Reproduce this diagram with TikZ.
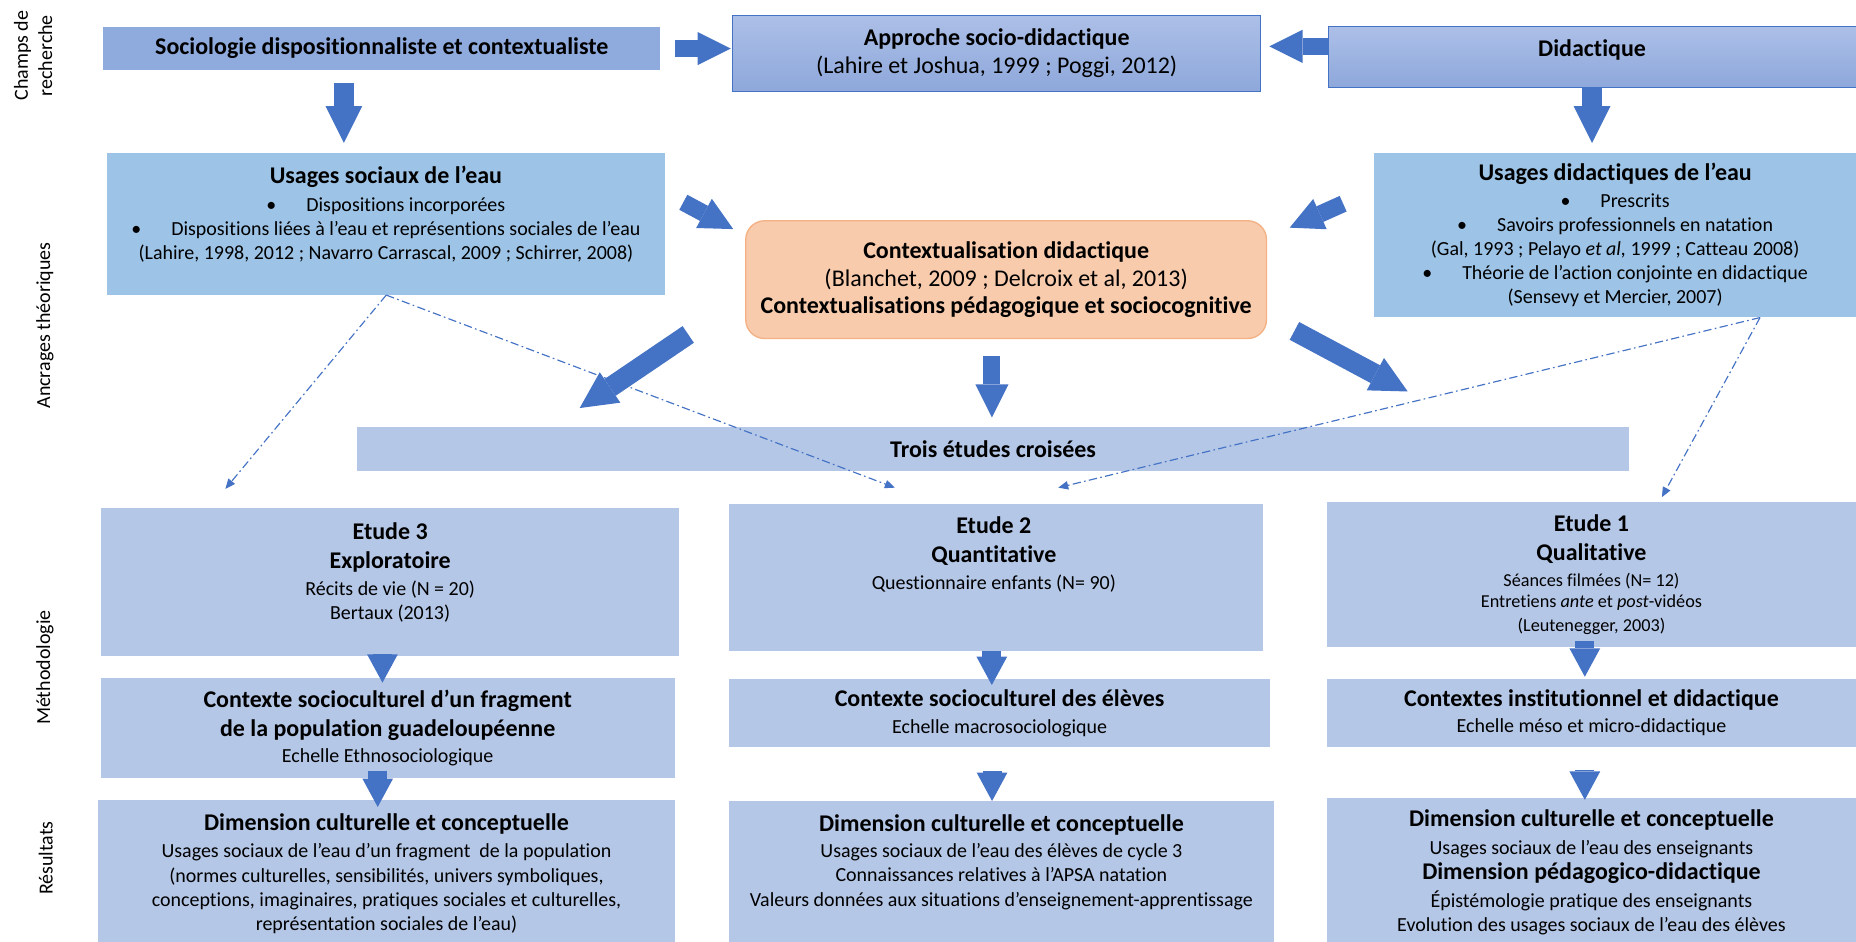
\documentclass[tikz,border=0pt,12pt]{standalone}
\usepackage{fontspec}
\setmainfont{Carlito}[Ligatures=NoCommon]
\usetikzlibrary{arrows.meta}
\definecolor{socblue}{HTML}{8FAADC}
\definecolor{apptop}{HTML}{ACBFE7}
\definecolor{appbot}{HTML}{8EA8DB}
\definecolor{frameblue}{HTML}{4472C4}
\definecolor{usageblue}{HTML}{9DC3E6}
\definecolor{studyblue}{HTML}{B4C7E7}
\definecolor{ctxfill}{HTML}{F8CBAD}
\definecolor{ctxline}{HTML}{F4B183}
\definecolor{arrowblue}{HTML}{4472C4}
\tikzset{
    box/.style={rectangle, inner sep=2pt, align=center},
    field/.style={box, fill=socblue},
    approach/.style={box, draw=frameblue, line width=0.6pt, top color=apptop, bottom color=appbot},
    usage/.style={box, fill=usageblue},
    study/.style={box, fill=studyblue},
    ctxbox/.style={box, rounded corners=0.4cm, fill=ctxfill, draw=ctxline, line width=0.8pt},
    txt/.style={inner sep=0pt, align=center},
    side/.style={rotate=90, inner sep=0pt, align=center},
    bigarrow/.style={draw=arrowblue, line width=0.425cm, -{Triangle[width=0.775cm, length=0.775cm, line width=0pt]}},
    midarrow/.style={draw=arrowblue, line width=0.36cm, -{Triangle[width=0.7cm, length=0.7cm, line width=0pt]}},
    smallarrow/.style={draw=arrowblue, line width=0.4cm, -{Triangle[width=0.65cm, length=0.6cm, line width=0pt]}},
    dotarrow/.style={draw=arrowblue, line width=0.7pt, dash pattern=on 5pt off 2pt on 1pt off 2pt, -{Triangle[width=5pt, length=6pt]}}
}

\begin{document}
\begin{tikzpicture}
    \useasboundingbox (0,0) rectangle (39.2,-19.875);
    \clip (0,0) rectangle (39.2,-19.875);

    \node[side] (champs) at (0.7,-1.175) {Champs de\\recherche};
    \node[side] (ancrages) at (0.95,-6.875) {Ancrages théoriques};
    \node[side] (methodo) at (0.95,-14.1) {Méthodologie};
    \node[side] (resultats) at (0.965,-18.125) {Résultats};

    \node[field, minimum width=11.775cm, minimum height=0.9cm] (soc) at (8.0625,-1.025) {\large\bfseries Sociologie dispositionnaliste et contextualiste};
    \node[approach, minimum width=11.15cm, minimum height=1.6125cm] (app) at (21.05,-1.131) {{\large\bfseries Approche socio-didactique}\\[2.3pt]{\large (Lahire et Joshua, 1999 ; Poggi, 2012)}};
    \node[approach, minimum width=11.15cm, minimum height=1.275cm] (dida) at (33.625,-1.2) {};
    \node[txt] (didatext) at (33.625,-1.05) {\large\bfseries Didactique};

    \node[usage, minimum width=11.785cm, minimum height=2.985cm] (usoc) at (8.1575,-4.7325) {};
    \node[txt] (usoctext) at (8.15,-4.525) {{\large\bfseries Usages sociaux de l’eau}\\[2.5pt]
        \textbullet\hspace{1.5em}Dispositions incorporées\\
        \textbullet\hspace{1.5em}Dispositions liées à l’eau et représentions sociales de l’eau\\
        (Lahire, 1998, 2012 ; Navarro Carrascal, 2009 ; Schirrer, 2008)};
    \node[usage, minimum width=10.175cm, minimum height=3.475cm] (udid) at (34.1125,-4.9625) {{\large\bfseries Usages didactiques de l’eau}\\[1.8pt]
        \textbullet\hspace{1.5em}Prescrits\\
        \textbullet\hspace{1.5em}Savoirs professionnels en natation\\
        (Gal, 1993 ; Pelayo \textit{et al,} 1999 ; Catteau 2008)\\
        \textbullet\hspace{1.5em}Théorie de l’action conjointe en didactique\\
        (Sensevy et Mercier, 2007)};
    \node[ctxbox, minimum width=11cm, minimum height=2.4875cm] (ctx) at (21.25,-5.906) {{\large\bfseries Contextualisation didactique}\\[2.5pt]
        {\large (Blanchet, 2009 ; Delcroix et al, 2013)}\\[1.9pt]
        {\large\bfseries Contextualisations pédagogique et sociocognitive}};

    \node[study, minimum width=26.85cm, minimum height=0.925cm] (trois) at (20.975,-9.4875) {\large\bfseries Trois études croisées};

    \node[study, minimum width=12.225cm, minimum height=3.125cm] (e3) at (8.2375,-12.2875) {};
    \node[txt] (e3text) at (8.24,-12.09) {{\large\bfseries Etude 3}\\[3pt]
        {\large\bfseries Exploratoire}\\[1.4pt]
        Récits de vie (N = 20)\\
        Bertaux (2013)};
    \node[study, minimum width=11.275cm, minimum height=3.1cm] (e2) at (21.0375,-12.2) {};
    \node[txt] (e2text) at (20.99,-11.71) {{\large\bfseries Etude 2}\\[3pt]
        {\large\bfseries Quantitative}\\[1.2pt]
        Questionnaire enfants (N= 90)};
    \node[study, minimum width=11.175cm, minimum height=3.075cm] (e1) at (33.6125,-12.1375) {{\large\bfseries Etude 1}\\[3pt]
        {\large\bfseries Qualitative}\\[0.7pt]
        {\small Séances filmées (N= 12)}\\[-1.7pt]
        {\small Entretiens \textit{ante} et \textit{post}-vidéos}\\
        {\small (Leutenegger, 2003)}};

    \node[study, minimum width=12.125cm, minimum height=2.1cm] (c3) at (8.1875,-15.375) {{\large\bfseries Contexte socioculturel d’un fragment}\\[2.5pt]
        {\large\bfseries de la population guadeloupéenne}\\[1.1pt]
        Echelle Ethnosociologique};
    \node[study, minimum width=11.425cm, minimum height=1.425cm] (c2) at (21.1125,-15.0625) {{\large\bfseries Contexte socioculturel des élèves}\\[1.9pt]
        Echelle macrosociologique};
    \node[study, minimum width=11.175cm, minimum height=1.425cm] (c1) at (33.6125,-15.0625) {{\large\bfseries Contextes institutionnel et didactique}\\[1.1pt]
        Echelle méso et micro-didactique};

    \node[study, minimum width=12.175cm, minimum height=3.1cm] (r3) at (8.1625,-18.45) {{\large\bfseries Dimension culturelle et conceptuelle}\\[2.1pt]
        Usages sociaux de l’eau d’un fragment\ \ de la population\\
        (normes culturelles, sensibilités, univers symboliques,\\
        conceptions, imaginaires, pratiques sociales et culturelles,\\
        représentation sociales de l’eau)};
    \node[study, minimum width=11.5cm, minimum height=3.075cm] (r2) at (21.15,-18.4625) {};
    \node[txt] (r2text) at (21.15,-18.21) {{\large\bfseries Dimension culturelle et conceptuelle}\\[1.2pt]
        Usages sociaux de l’eau des élèves de cycle 3\\
        Connaissances relatives à l’APSA natation\\
        Valeurs données aux situations d’enseignement-apprentissage};
    \node[study, minimum width=11.175cm, minimum height=3.15cm] (r1) at (33.6125,-18.425) {{\large\bfseries Dimension culturelle et conceptuelle}\\[1.8pt]
        Usages sociaux de l’eau des enseignants\\[1.1pt]
        {\large\bfseries Dimension pédagogico-didactique}\\[1.8pt]
        Épistémologie pratique des enseignants\\
        Evolution des usages sociaux de l’eau des élèves};

    \coordinate (toe3) at (4.76,-10.325);
    \coordinate (toe2a) at (18.9,-10.3);
    \coordinate (toe2b) at (22.35,-10.3);
    \coordinate (toe1) at (35.1,-10.5);
    \draw[dotarrow] (usoc.south) -- (toe3);
    \draw[dotarrow] (usoc.south) -- (toe2a);
    \draw[dotarrow] ([xshift=3.06cm]udid.south) -- (toe2b);
    \draw[dotarrow] ([xshift=3.06cm]udid.south) -- (toe1);

    \draw[midarrow, shorten <=0.3cm, shorten >=0.03cm] (soc.east) -- (soc.east -| app.west);
    \draw[midarrow, shorten >=0.175cm] ([yshift=0.22cm]dida.west) -- ([yshift=0.22cm]dida.west -| app.east);
    \draw[bigarrow, shorten <=0.275cm, shorten >=0.215cm] ([xshift=-0.8cm]soc.south) -- ([xshift=-0.8cm]soc.south |- usoc.north);
    \draw[bigarrow, shorten >=0.2cm] (dida.south) -- (dida.south |- udid.north);
    \draw[midarrow] ([xshift=0.375cm, yshift=0.46cm]usoc.east) -- ([xshift=-0.25cm, yshift=-0.19cm]ctx.north west);
    \draw[midarrow] ([xshift=-0.65cm, yshift=0.66cm]udid.west) -- ([xshift=0.475cm, yshift=-0.16cm]ctx.north east);
    \draw[bigarrow] ([xshift=-1.2cm, yshift=0.1cm]ctx.south west) -- ([xshift=4.7cm, yshift=0.4cm]trois.north west);
    \draw[midarrow, shorten <=0.35cm, shorten >=0.2cm] ([xshift=-0.3cm]ctx.south) -- ([xshift=-0.3cm]ctx.south |- trois.north);
    \draw[bigarrow] ([xshift=0.575cm, yshift=0.175cm]ctx.south east) -- ([xshift=-4.675cm, yshift=0.75cm]trois.north east);

    \draw[smallarrow, shorten <=-0.2cm, shorten >=-0.1cm] ([xshift=-0.16cm]e3.south) -- ([xshift=-0.16cm]e3.south |- c3.north);
    \draw[smallarrow, shorten <=-0.15cm, shorten >=-0.15cm] ([xshift=-0.21cm]c3.south) -- ([xshift=-0.21cm]c3.south |- r3.north);
    \draw[smallarrow, shorten >=-0.125cm] ([xshift=-0.09cm]e2.south) -- ([xshift=-0.09cm]e2.south |- c2.north);
    \draw[smallarrow, shorten <=0.5cm] ([xshift=-0.16cm]c2.south) -- ([xshift=-0.16cm]c2.south |- r2.north);
    \draw[smallarrow, shorten <=-0.135cm, shorten >=0.05cm] ([xshift=-0.14cm]e1.south) -- ([xshift=-0.14cm]e1.south |- c1.north);
    \draw[smallarrow, shorten <=0.475cm, shorten >=-0.05cm] ([xshift=-0.14cm]c1.south) -- ([xshift=-0.14cm]c1.south |- r1.north);
\end{tikzpicture}
\end{document}
